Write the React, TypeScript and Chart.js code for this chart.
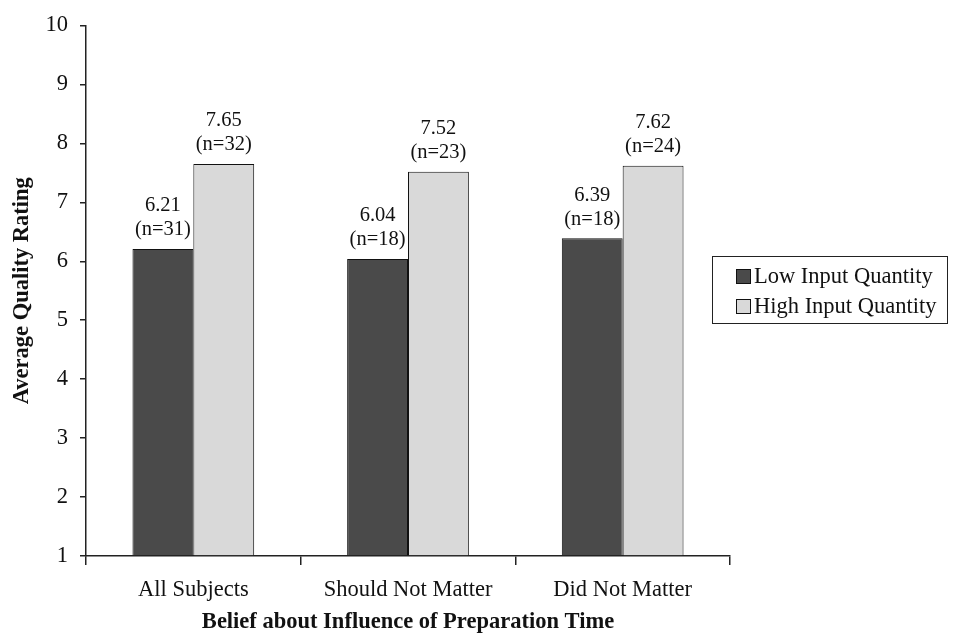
import React, { useEffect, useRef } from "react";
import { Chart, registerables } from "chart.js";

Chart.register(...registerables);

const categories = ["All Subjects", "Should Not Matter", "Did Not Matter"];
const seriesNames = ["Low Input Quantity", "High Input Quantity"];
const lowValues = [6.21, 6.04, 6.39];
const highValues = [7.65, 7.52, 7.62];
const lowCounts = [31, 18, 18];
const highCounts = [32, 23, 24];
const yTicks = [1, 2, 3, 4, 5, 6, 7, 8, 9, 10];

const DARK = "#4a4a4a";
const LIGHT = "#d9d9d9";
const FONT = "'Liberation Serif', 'Times New Roman', serif";

// Draws "value (n=count)" above each bar and the boxed legend on the right.
const annotate = {
  id: "annotate",
  afterDatasetsDraw(chart: any) {
    const ctx = chart.ctx;
    const counts = [lowCounts, highCounts];
    ctx.save();
    ctx.fillStyle = "#111";
    ctx.font = `20.5px ${FONT}`;
    ctx.textAlign = "center";
    ctx.textBaseline = "middle";
    chart.data.datasets.forEach((ds: any, di: number) => {
      const meta = chart.getDatasetMeta(di);
      meta.data.forEach((bar: any, i: number) => {
        const v = ds.data[i] as number;
        ctx.fillText(v.toFixed(2), bar.x, bar.y - 43);
        ctx.fillText(`(n=${counts[di][i]})`, bar.x, bar.y - 19);
      });
    });

    // legend
    const lx = 712, ly = 256, lw = 235, lh = 67;
    ctx.strokeStyle = "#222";
    ctx.lineWidth = 1;
    ctx.strokeRect(lx + 0.5, ly + 0.5, lw, lh);
    const colors = [DARK, LIGHT];
    ctx.font = `22.5px ${FONT}`;
    ctx.textAlign = "left";
    seriesNames.forEach((name, i) => {
      const cy = ly + 20 + i * 30;
      ctx.fillStyle = colors[i];
      ctx.fillRect(736, cy - 7, 14, 14);
      ctx.strokeStyle = "#111";
      ctx.strokeRect(736.5, cy - 6.5, 14, 14);
      ctx.fillStyle = "#111";
      ctx.fillText(name, 754, cy + 1);
    });
    ctx.restore();
  },
};

export default function App() {
  const ref = useRef<HTMLCanvasElement>(null);

  useEffect(() => {
    document.body.style.margin = "0";
    const chart = new Chart(ref.current!, {
      type: "bar",
      data: {
        labels: categories,
        datasets: [
          {
            label: seriesNames[0],
            data: lowValues,
            backgroundColor: DARK,
            borderColor: "#111",
            borderWidth: 1,
            categoryPercentage: 0.567,
            barPercentage: 1,
            base: 1,
          },
          {
            label: seriesNames[1],
            data: highValues,
            backgroundColor: LIGHT,
            borderColor: "#111",
            borderWidth: 1,
            categoryPercentage: 0.567,
            barPercentage: 1,
            base: 1,
          },
        ],
      },
      options: {
        animation: false,
        responsive: false,
        layout: { padding: { left: 0, top: 24, right: 223, bottom: 0 } },
        plugins: { legend: { display: false }, tooltip: { enabled: false } },
        scales: {
          x: {
            offset: true,
            grid: {
              offset: true,
              drawOnChartArea: false,
              drawTicks: true,
              tickLength: 9,
              color: "#222",
              lineWidth: 1.5,
            },
            border: { color: "#222", width: 1.5 },
            ticks: {
              color: "#111",
              font: { family: FONT, size: 22.5 },
              padding: 12,
            },
            title: {
              display: true,
              text: "Belief about Influence of Preparation Time",
              color: "#111",
              font: { family: FONT, size: 22.5, weight: "bold" },
              padding: { top: 0, bottom: 0 },
            },
            afterFit(scale: any) {
              scale.height = 80;
            },
          },
          y: {
            min: 1,
            max: 10,
            afterBuildTicks(scale: any) {
              scale.ticks = yTicks.map((v) => ({ value: v }));
            },
            grid: {
              drawOnChartArea: false,
              drawTicks: true,
              tickLength: 6,
              color: "#222",
              lineWidth: 1.5,
            },
            border: { color: "#222", width: 1.5 },
            ticks: {
              color: "#111",
              font: { family: FONT, size: 22.5 },
              padding: 12,
            },
            title: {
              display: true,
              text: "Average Quality Rating",
              color: "#111",
              font: { family: FONT, size: 22.5, weight: "bold" },
              padding: { top: 9, bottom: 0 },
            },
            afterFit(scale: any) {
              scale.width = 86;
            },
          },
        },
      },
      plugins: [annotate],
    });
    return () => chart.destroy();
  }, []);

  return (
    <div style={{ position: "relative", width: 953, height: 636, background: "#fff" }}>
      <canvas ref={ref} width={953} height={636} />
    </div>
  );
}
